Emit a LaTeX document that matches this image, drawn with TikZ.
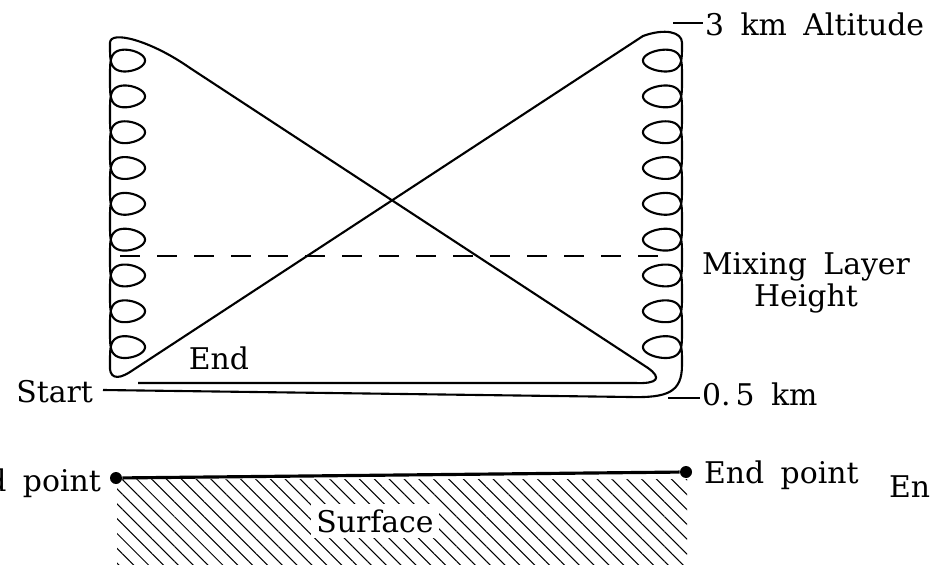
\documentclass[tikz,border=0pt]{standalone}
\usepackage{fontspec}
\setmainfont{DejaVu Serif}
\usepackage{tikz}
\usetikzlibrary{patterns.meta}
\newcommand\lblfont{\fontsize{17}{18}\selectfont\spaceskip=0.55em\relax}

\begin{document}
\begin{tikzpicture}[x=0.2mm, y=-0.2mm,
  flight/.style={line width=1.2pt, line join=round},
  lbl/.style={font=\lblfont, inner sep=1pt},
  tickmark/.style={line width=1.2pt},
  mixline/.style={line width=1.2pt, dash pattern=on 4mm off 3.4mm},
  endpt/.style={circle, fill, inner sep=0pt, minimum size=2.4mm}]
  \useasboundingbox (0,0) rectangle (930,565);

  \fill[pattern={Lines[angle=-45, distance=2.1mm, line width=0.6pt]}] (117,479) rectangle (687,575);
  \node[endpt] (ptl) at (116,478) {};
  \node[endpt] (ptr) at (686,472) {};
  \draw[line width=1.8pt] (ptl) -- (ptr);
  \node[lbl, fill=white, inner sep=3pt] (surf) at (375,521) {Surface};
  \node[lbl, anchor=base east] (eptl) at (103,491) {End point};
  \node[lbl, anchor=base west] (eptr) at (702,483) {End point};
  \node[lbl, anchor=base west] (endcut) at (887,497) {End};

  \draw[mixline] (120,256) -- (670,256);

  \coordinate (s0) at (103,390);
  \draw[flight] (s0) -- (630,397)
    .. controls (668,398) and (682,392) .. (682,365)
    -- plot[domain=0:18*pi, samples=900, variable=\t, smooth] ({682-39*((1-cos(\t r))/2)^2}, {365-5.7*\t-19*sin(\t r)})
    .. controls (682,32) and (665,28) .. (643,36)
    -- (130,372)
    .. controls (116,381) and (109,377) .. (110,365)
    -- plot[domain=0:18*pi, samples=900, variable=\t, smooth] ({110+35*((1-cos(\t r))/2)^2}, {365-5.7*\t-19*sin(\t r)})
    .. controls (110,30) and (150,40) .. (190,68)
    -- (648,368)
    .. controls (662,378) and (658,384) .. (635,383)
    -- (138,383);

  \node[lbl, anchor=east] (start) at (95,392) {Start};
  \node[lbl] (endlbl) at (219,358) {End};
  \node[lbl, anchor=west] (alt) at (703,24) {3 km Altitude};
  \node[lbl, align=center] (mix) at (806,283) {Mixing Layer\\Height};
  \node[lbl, anchor=west] (low) at (700,394) {0.\,5 km};

  \coordinate (altTick) at (673,23);
  \coordinate (lowTick) at (668,398);
  \draw[tickmark] (altTick) -- (altTick -| alt.west);
  \draw[tickmark] (lowTick) -- (lowTick -| low.west);
\end{tikzpicture}
\end{document}
